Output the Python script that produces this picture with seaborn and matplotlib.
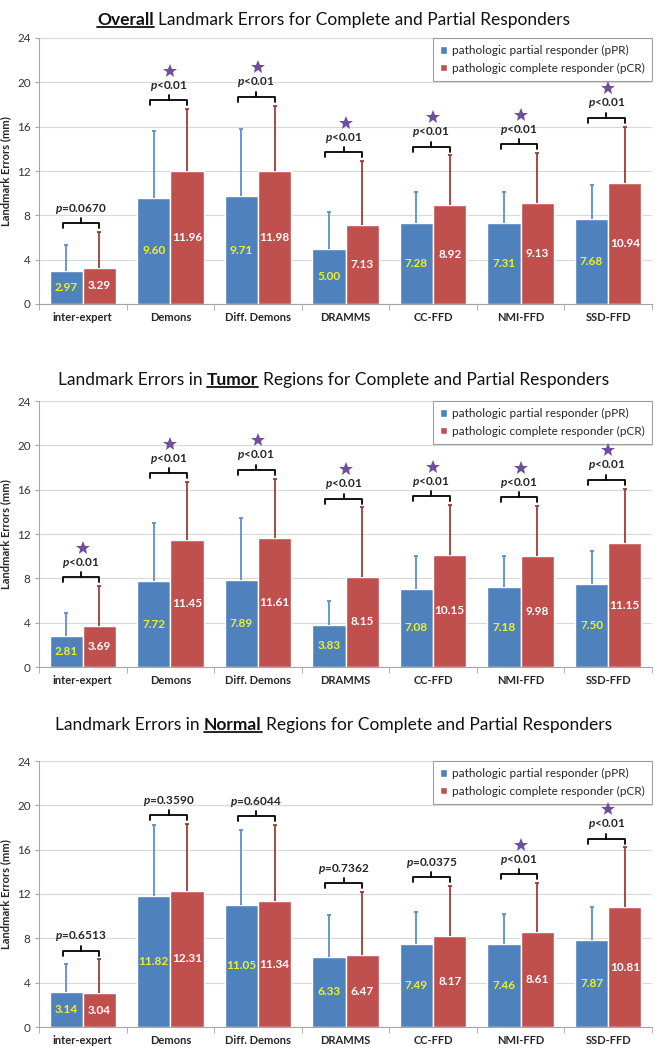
import numpy as np
import pandas as pd
import matplotlib
matplotlib.use('Agg')
import matplotlib.pyplot as plt
from matplotlib.lines import Line2D
import seaborn as sns

# Data
methods = ['inter-expert', 'Demons', 'Diff. Demons', 'DRAMMS', 'CC-FFD', 'NMI-FFD', 'SSD-FFD']
groups = ['pathologic partial responder (pPR)', 'pathologic complete responder (pCR)']

overall_ppr = [2.97, 9.60, 9.71, 5.00, 7.28, 7.31, 7.68]
overall_ppr_sd = [2.33, 6.00, 6.09, 3.30, 2.82, 2.79, 3.02]
overall_pcr = [3.29, 11.96, 11.98, 7.13, 8.92, 9.13, 10.94]
overall_pcr_sd = [3.21, 5.64, 5.92, 5.77, 4.48, 4.47, 5.06]
overall_p = ['=0.0670', '<0.01', '<0.01', '<0.01', '<0.01', '<0.01', '<0.01']

tumor_ppr = [2.81, 7.72, 7.89, 3.83, 7.08, 7.18, 7.50]
tumor_ppr_sd = [2.09, 5.28, 5.51, 2.17, 2.92, 2.82, 3.00]
tumor_pcr = [3.69, 11.45, 11.61, 8.15, 10.15, 9.98, 11.15]
tumor_pcr_sd = [3.61, 5.25, 5.39, 6.25, 4.45, 4.52, 4.95]
tumor_p = ['<0.01', '<0.01', '<0.01', '<0.01', '<0.01', '<0.01', '<0.01']

normal_ppr = [3.14, 11.82, 11.05, 6.33, 7.49, 7.46, 7.87]
normal_ppr_sd = [2.56, 6.38, 6.75, 3.77, 2.91, 2.74, 2.93]
normal_pcr = [3.04, 12.31, 11.34, 6.47, 8.17, 8.61, 10.81]
normal_pcr_sd = [3.06, 5.99, 6.86, 5.73, 4.53, 4.39, 5.39]
normal_p = ['=0.6513', '=0.3590', '=0.6044', '=0.7362', '=0.0375', '<0.01', '<0.01']

panels = [
    ('', 'Overall', ' Landmark Errors for Complete and Partial Responders',
     overall_ppr, overall_ppr_sd, overall_pcr, overall_pcr_sd, overall_p),
    ('Landmark Errors in ', 'Tumor', ' Regions for Complete and Partial Responders',
     tumor_ppr, tumor_ppr_sd, tumor_pcr, tumor_pcr_sd, tumor_p),
    ('Landmark Errors in ', 'Normal', ' Regions for Complete and Partial Responders',
     normal_ppr, normal_ppr_sd, normal_pcr, normal_pcr_sd, normal_p),
]

sns.set_style('white')
plt.rcParams['font.family'] = ['Lato', 'DejaVu Sans']
plt.rcParams['mathtext.fontset'] = 'custom'
plt.rcParams['mathtext.it'] = 'Lato:italic:bold'
plt.rcParams['mathtext.rm'] = 'Lato:bold'

blue = '#4F81BD'
red = '#C0504D'
blue_err = '#5B8FD0'
red_err = '#9E3B38'
purple = '#6F4E9E'

W, H = 667, 1050
fig = plt.figure(figsize=(W / 100, H / 100), dpi=100)

# axes boxes in pixels: (top, bottom)
boxes = [(38, 304), (401, 667), (761, 1027)]
title_y = [20, 380, 725]
left_px, right_px = 39, 652


def rich_title(y_px, before, bold, after, size=12.5):
    r = fig.canvas.get_renderer()
    y = 1 - y_px / H
    parts = [(s.strip(), w) for s, w in [(before, 'normal'), (bold, 'bold'), (after, 'normal')] if s.strip()]
    probe1 = fig.text(0, 0, 'x x', fontsize=size)
    probe2 = fig.text(0, 0, 'xx', fontsize=size)
    gap = probe1.get_window_extent(r).width - probe2.get_window_extent(r).width
    probe1.remove()
    probe2.remove()
    texts = [fig.text(0, y, s, fontsize=size, fontweight=w, va='center', ha='left', color='#111111')
             for s, w in parts]
    widths = [t.get_window_extent(r).width for t in texts]
    total = sum(widths) + gap * (len(texts) - 1)
    x = (W - total) / 2
    for t, wd, (s, w) in zip(texts, widths, parts):
        t.set_x(x / W)
        if w == 'bold':
            bb = t.get_window_extent(r)
            yl = (bb.y0 + 1.5) / H
            fig.add_artist(Line2D([x / W, (x + wd) / W], [yl, yl], color='#111111',
                                  lw=1.3, transform=fig.transFigure))
        x += wd + gap


for (top, bot), ty, (before, bold, after, ppr, ppr_sd, pcr, pcr_sd, pvals) in zip(boxes, title_y, panels):
    ax = fig.add_axes([left_px / W, 1 - bot / H, (right_px - left_px) / W, (bot - top) / H])

    df = pd.DataFrame({
        'Method': methods * 2,
        'Group': [groups[0]] * len(methods) + [groups[1]] * len(methods),
        'Error': ppr + pcr,
    })
    sns.barplot(data=df, x='Method', y='Error', hue='Group', order=methods, hue_order=groups,
                palette=[blue, red], saturation=1, width=0.76, errorbar=None, ax=ax, zorder=2)

    # bar centres from the drawn patches
    bars = [p for p in ax.patches if p.get_height() > 0]
    bars = sorted(bars, key=lambda p: p.get_x())
    centers = np.array([p.get_x() + p.get_width() / 2 for p in bars])
    x_ppr = centers[0::2]
    x_pcr = centers[1::2]

    # upper error bars only
    for xs, m, sd, c in [(x_ppr, ppr, ppr_sd, blue_err), (x_pcr, pcr, pcr_sd, red_err)]:
        m = np.array(m)
        sd = np.array(sd)
        ax.vlines(xs, m, m + sd, color=c, lw=1.3, zorder=3)
        ax.plot(xs, m + sd, ls='none', marker='_', markersize=3, markeredgewidth=1.3,
                color=c, zorder=3)

    # value labels in the middle of the bars
    for xi, v in zip(x_ppr, ppr):
        ax.text(xi, v / 2, f'{v:.2f}', ha='center', va='center', fontsize=8.5,
                fontweight='bold', color='#EEF02A', zorder=4)
    for xi, v in zip(x_pcr, pcr):
        ax.text(xi, v / 2, f'{v:.2f}', ha='center', va='center', fontsize=8.5,
                fontweight='bold', color='white', zorder=4)

    # significance brackets
    for i, pv in enumerate(pvals):
        tops = max(ppr[i] + ppr_sd[i], pcr[i] + pcr_sd[i])
        by = tops + 0.8
        x0, x1 = x_ppr[i] - 0.04, x_pcr[i]
        xm = (x0 + x1) / 2
        ax.plot([x0, x0, x1, x1], [by - 0.45, by, by, by - 0.45], color='black', lw=1.3, zorder=5,
                solid_joinstyle='round')
        ax.plot([xm, xm], [by, by + 0.45], color='black', lw=1.3, zorder=5)
        ax.text(xm, by + 1.3, r'$p$' + pv, ha='center', va='center', fontsize=8.5,
                fontweight='bold', zorder=5)
        if pv == '<0.01':
            ax.plot([i], [by + 2.65], marker='*', markersize=10, color=purple,
                    markeredgewidth=0, zorder=7)

    ax.set_ylim(0, 24)
    ax.set_xlim(-0.5, len(methods) - 0.5)
    ax.set_yticks(range(0, 25, 4))
    ax.yaxis.grid(True, color='#D9D9D9', lw=0.8, zorder=0)
    ax.set_axisbelow(True)
    for s in ['top', 'right']:
        ax.spines[s].set_visible(False)
    for s in ['left', 'bottom']:
        ax.spines[s].set_color('#A6A6A6')
        ax.spines[s].set_linewidth(0.8)
    ax.tick_params(axis='y', which='major', length=3, color='#A6A6A6', labelsize=8.5,
                   labelcolor='#333333', left=True, pad=3)
    ax.tick_params(axis='x', which='major', length=0, labelsize=8, pad=6)
    ax.set_xticks(np.arange(-0.5, len(methods)), minor=True)
    ax.tick_params(axis='x', which='minor', length=4, color='#A6A6A6', bottom=True)
    for lab in ax.get_xticklabels():
        lab.set_fontweight('bold')
    ax.set_xlabel('')
    ax.set_ylabel('Landmark Errors (mm)', fontsize=8, fontweight='bold')
    ax.yaxis.set_label_coords(-0.046, 0.5)

    leg = ax.legend(loc='upper right', bbox_to_anchor=(1.0, 1.0), borderaxespad=0,
                    fontsize=8.5, frameon=True, fancybox=False, edgecolor='#888888',
                    handlelength=0.6, handleheight=0.6, handletextpad=0.4,
                    labelspacing=0.55, borderpad=0.6)
    leg.get_frame().set_linewidth(0.8)
    leg.set_zorder(6)

    rich_title(ty, before, bold, after)

fig.savefig('out.png', dpi=100)
